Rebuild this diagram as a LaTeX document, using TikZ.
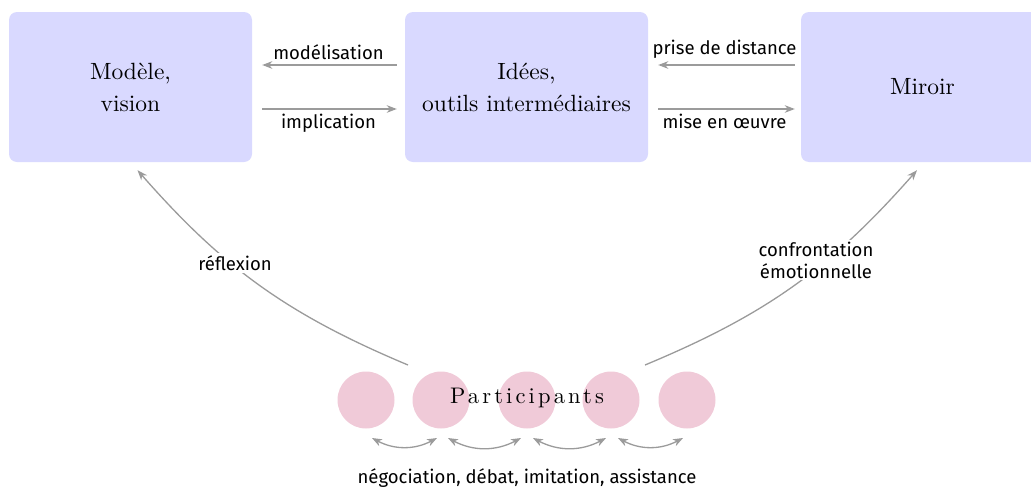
\documentclass[tikz,border=0pt]{standalone}
\usepackage{fontspec}
\setsansfont{Fira Sans}
\newfontfamily\serifx{lmroman10-regular}[Extension=.otf]
\newfontfamily\partfont{lmroman10-regular}[Extension=.otf,LetterSpace=14]
\usetikzlibrary{arrows.meta,calc}
\definecolor{boxfill}{RGB}{217,217,255}
\definecolor{partfill}{RGB}{240,202,216}
\definecolor{linegray}{RGB}{155,155,155}
\begin{document}
\begin{tikzpicture}[x=1pt,y=-1pt,
  box/.style={fill=boxfill,rounded corners=8pt,minimum width=243pt,minimum height=150pt,inner sep=0pt,align=center,font=\serifx\fontsize{23.5}{32}\selectfont},
  pers/.style={circle,fill=partfill,minimum size=57pt,inner sep=0pt},
  arr/.style={draw=linegray,line width=1.3pt,-{Stealth[length=10pt,width=7.5pt,inset=3pt]}},
  darr/.style={draw=linegray,line width=1.3pt,{Stealth[length=10pt,width=7.5pt,inset=3pt]}-{Stealth[length=10pt,width=7.5pt,inset=3pt]}},
  lbl/.style={font=\sffamily\fontsize{18.5}{22}\selectfont,text=black,align=center},
]
\useasboundingbox (0,0) rectangle (1031,493);
\node[box] (b1) at (130.5,87) {Modèle,\\vision};
\node[box] (b2) at (526.5,87) {Idées,\\outils intermédiaires};
\node[box] (b3) at (922.5,87) {Miroir};

\node[pers] (c1) at (366,400) {};
\node[pers] (c2) at (441,400) {};
\node[pers] (c3) at (527,400) {};
\node[pers] (c4) at (611,400) {};
\node[pers] (c5) at (687,400) {};
\node (part) at (527,398) {\partfont\fontsize{22.5}{24}\selectfont Participants};

% top arrows
\draw[arr,shorten <=8pt,shorten >=10pt] ([yshift=22pt]b2.west) -- node[lbl,above=1pt] {modélisation} ([yshift=22pt]b1.east);
\draw[arr,shorten <=10pt,shorten >=8pt] ([yshift=-22pt]b1.east) -- node[lbl,below=1pt] {implication} ([yshift=-22pt]b2.west);
\draw[arr,shorten <=6pt,shorten >=10pt] ([yshift=22pt]b3.west) -- node[lbl,above=3pt] {prise de distance} ([yshift=22pt]b2.east);
\draw[arr,shorten <=10pt,shorten >=6pt] ([yshift=-22pt]b2.east) -- node[lbl,below=1pt] {mise en œuvre} ([yshift=-22pt]b3.west);

% curved arrows
\coordinate (s1) at ($(c2.center)+(-33,-35)$);
\coordinate (e1) at ($(b1.south)+(7,8)$);
\coordinate (s2) at ($(c4.center)+(34,-35)$);
\coordinate (e2) at ($(b3.south)+(-5.5,8)$);
\draw[arr] (s1) to[bend left=13] (e1);
\draw[arr] (s2) to[bend right=13] (e2);
\node[lbl,fill=white,inner sep=2pt] (rl) at (235,263) {réflexion};
\node[lbl,fill=white,inner sep=2pt] (cl) at (816,260) {confrontation\\émotionnelle};

% bottom double arrows
\draw[darr] ($(c1.center)+(6,38)$) to[bend right=28] ($(c2.center)+(-4,38)$);
\draw[darr] ($(c2.center)+(7,38)$) to[bend right=28] ($(c3.center)+(-6,38)$);
\draw[darr] ($(c3.center)+(6,38)$) to[bend right=28] ($(c4.center)+(-5,38)$);
\draw[darr] ($(c4.center)+(7,38)$) to[bend right=28] ($(c5.center)+(-4,38)$);

\node[lbl] (neg) at (527,478) {négociation, débat, imitation, assistance};
\end{tikzpicture}
\end{document}
